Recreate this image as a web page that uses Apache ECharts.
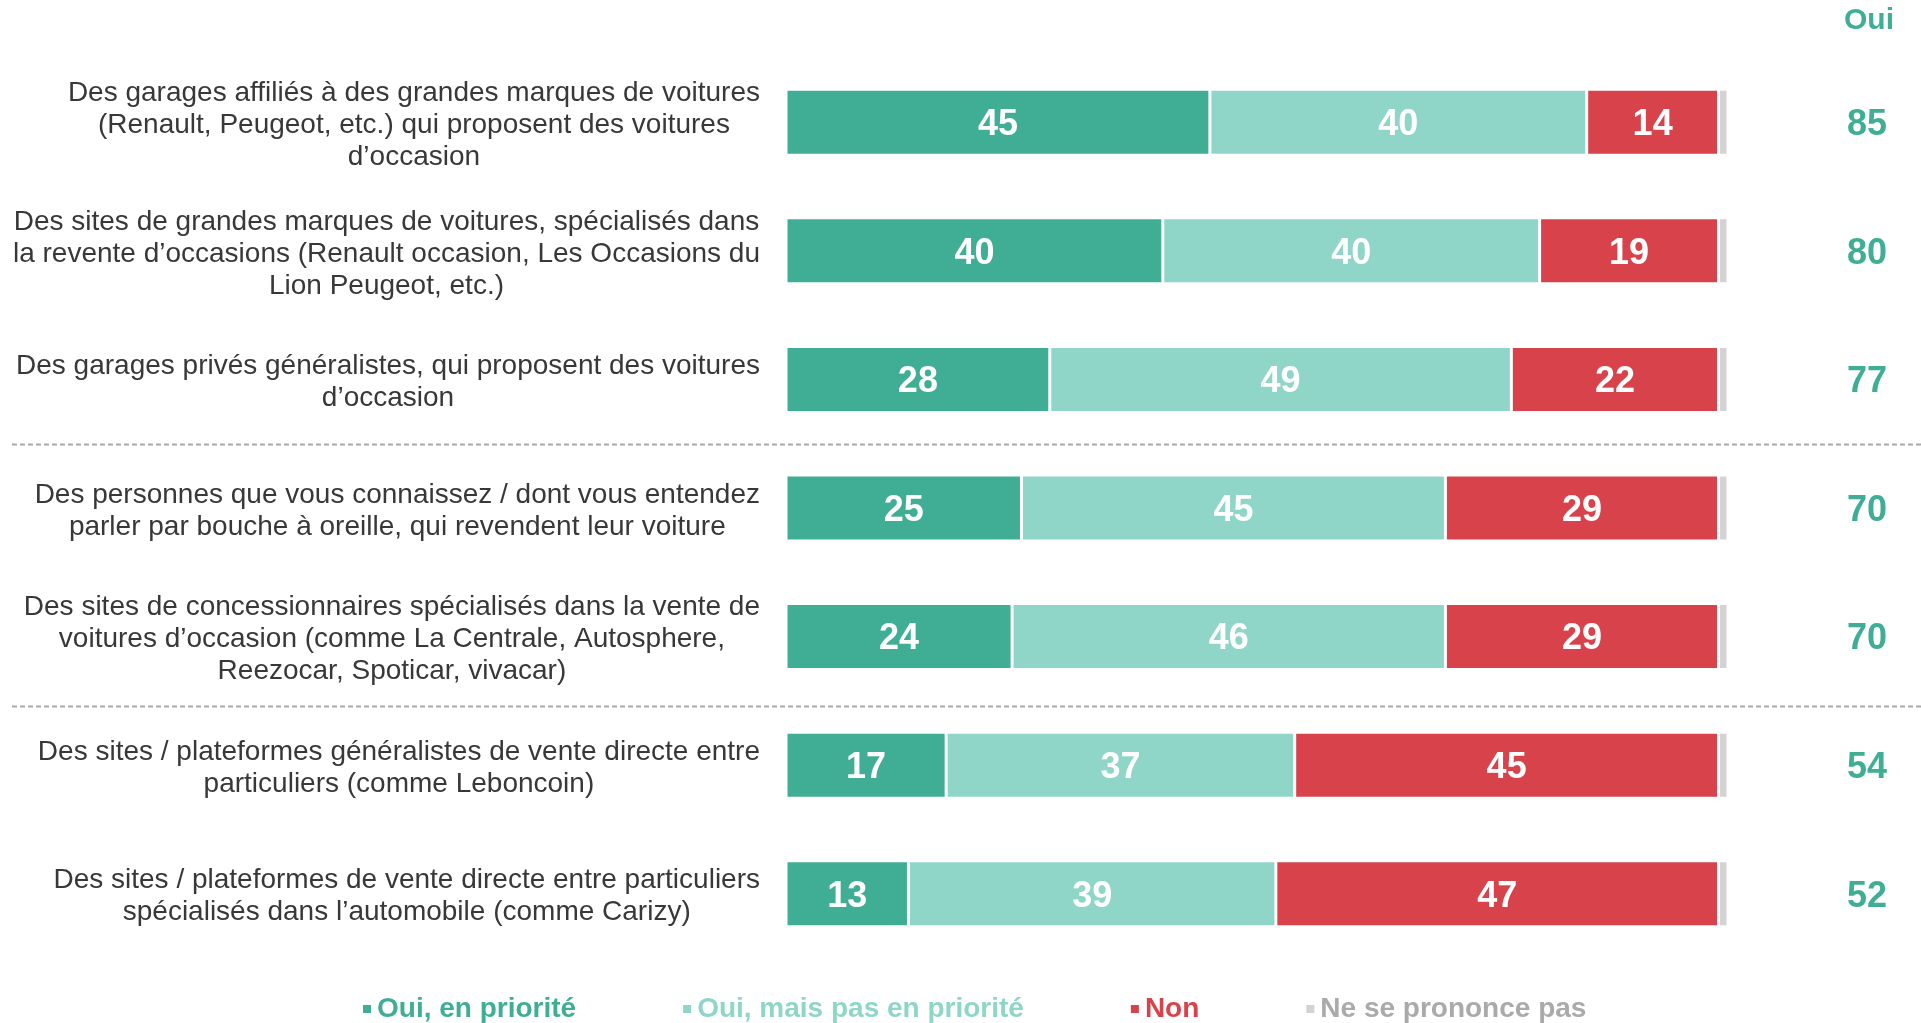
<!DOCTYPE html>
<html>
<head>
<meta charset="utf-8">
<style>
  html, body { margin: 0; padding: 0; background: #fff; }
  #main { width: 1921px; height: 1023px; }
</style>
<script src="https://cdn.jsdelivr.net/npm/echarts@6/dist/echarts.min.js"></script>
</head>
<body>
<div id="main"></div>
<script>
// données
var categories = [
  'Des garages affiliés à des grandes marques de voitures\n(Renault, Peugeot, etc.) qui proposent des voitures\nd\u2019occasion',
  'Des sites de grandes marques de voitures, spécialisés dans\nla revente d\u2019occasions (Renault occasion, Les Occasions du\nLion Peugeot, etc.)',
  'Des garages privés généralistes, qui proposent des voitures\nd\u2019occasion',
  'Des personnes que vous connaissez / dont vous entendez\nparler par bouche à oreille, qui revendent leur voiture',
  'Des sites de concessionnaires spécialisés dans la vente de\nvoitures d\u2019occasion (comme La Centrale, Autosphere,\nReezocar, Spoticar, vivacar)',
  'Des sites / plateformes généralistes de vente directe entre\nparticuliers (comme Leboncoin)',
  'Des sites / plateformes de vente directe entre particuliers\nspécialisés dans l\u2019automobile (comme Carizy)'
];
var ouiPriorite = [45, 40, 28, 25, 24, 17, 13];
var ouiPasPriorite = [40, 40, 49, 45, 46, 37, 39];
var non = [14, 19, 22, 29, 29, 45, 47];
var nsp = [1, 1, 1, 1, 1, 1, 1];
var ouiTotal = [85, 80, 77, 70, 70, 54, 52];
var separators = [3, 5]; // séparation avant ces lignes

var FONT = '"Liberation Sans", Arial, sans-serif';
var C_PRIO = '#3FAE95';
var C_PAS = '#8FD6C8';
var C_NON = '#D8434B';
var C_NSP = '#D3D3D3';

var chart = echarts.init(document.getElementById('main'));

function barSeries(name, data, color, showLabel) {
  return {
    name: name,
    type: 'bar',
    stack: 'total',
    barWidth: 66,
    data: data,
    itemStyle: {
      color: color,
      borderColor: '#fff',
      borderWidth: 1.5
    },
    label: {
      show: showLabel,
      position: 'inside',
      offset: [0, 3],
      color: '#fff',
      fontFamily: FONT,
      fontSize: 36,
      fontWeight: 'bold'
    }
  };
}

var option = {
  animation: false,
  textStyle: { fontFamily: FONT },
  title: {
    text: 'Oui',
    left: 1844,
    top: 6,
    padding: 0,
    textStyle: {
      color: C_PRIO,
      fontFamily: FONT,
      fontSize: 30,
      fontWeight: 'bold'
    }
  },
  legend: {
    left: 361,
    top: 995,
    padding: 0,
    itemWidth: 10,
    itemHeight: 10,
    itemGap: 105,
    icon: 'rect',
    textStyle: { fontFamily: FONT, fontSize: 28, fontWeight: 'bold' },
    data: [
      { name: 'Oui, en priorité', textStyle: { color: C_PRIO } },
      { name: 'Oui, mais pas en priorité', textStyle: { color: C_PAS } },
      { name: 'Non', textStyle: { color: C_NON } },
      { name: 'Ne se prononce pas', textStyle: { color: '#AAAAAA' } }
    ]
  },
  grid: {
    left: 786,
    right: 193,
    top: 58,
    bottom: 65,
    containLabel: false
  },
  xAxis: {
    type: 'value',
    min: 0,
    max: 100,
    show: false
  },
  yAxis: [{
    type: 'category',
    inverse: true,
    data: categories,
    axisLine: { show: false },
    axisTick: { show: false },
    axisLabel: {
      margin: 26,
      align: 'right',
      padding: [6, 0, 0, 0],
      formatter: function (value) {
        return value.split('\n').map(function (l) { return '{c|' + l + '}'; }).join('\n');
      },
      rich: {
        c: {
          align: 'center',
          fontFamily: FONT,
          fontSize: 28,
          lineHeight: 32,
          color: '#383838'
        }
      }
    }
  }, {
    type: 'category',
    inverse: true,
    position: 'right',
    data: categories,
    axisLine: { show: false },
    axisTick: { show: false },
    axisLabel: {
      margin: 139,
      align: 'center',
      formatter: function (value, index) {
        return '{v|' + ouiTotal[index] + '}';
      },
      rich: {
        v: {
          padding: [6, 0, 0, 0],
          color: C_PRIO,
          fontFamily: FONT,
          fontSize: 36,
          fontWeight: 'bold'
        }
      }
    }
  }],
  series: [
    barSeries('Oui, en priorité', ouiPriorite, C_PRIO, true),
    barSeries('Oui, mais pas en priorité', ouiPasPriorite, C_PAS, true),
    barSeries('Non', non, C_NON, true),
    barSeries('Ne se prononce pas', nsp, C_NSP, false)
  ]
};

chart.setOption(option);

// lignes pointillées de séparation entre groupes
var sepOffsets = [0, 5];
var graphics = separators.map(function (idx, k) {
  var y1 = chart.convertToPixel({ yAxisIndex: 0 }, idx - 1);
  var y2 = chart.convertToPixel({ yAxisIndex: 0 }, idx);
  var y = Math.round((y1 + y2) / 2) + sepOffsets[k] + 0.5;
  return {
    type: 'line',
    shape: { x1: 12, y1: y, x2: 1921, y2: y },
    style: { stroke: '#AAAAAA', lineWidth: 2, lineDash: [5, 3] },
    silent: true
  };
});
chart.setOption({ graphic: graphics });
</script>
</body>
</html>
